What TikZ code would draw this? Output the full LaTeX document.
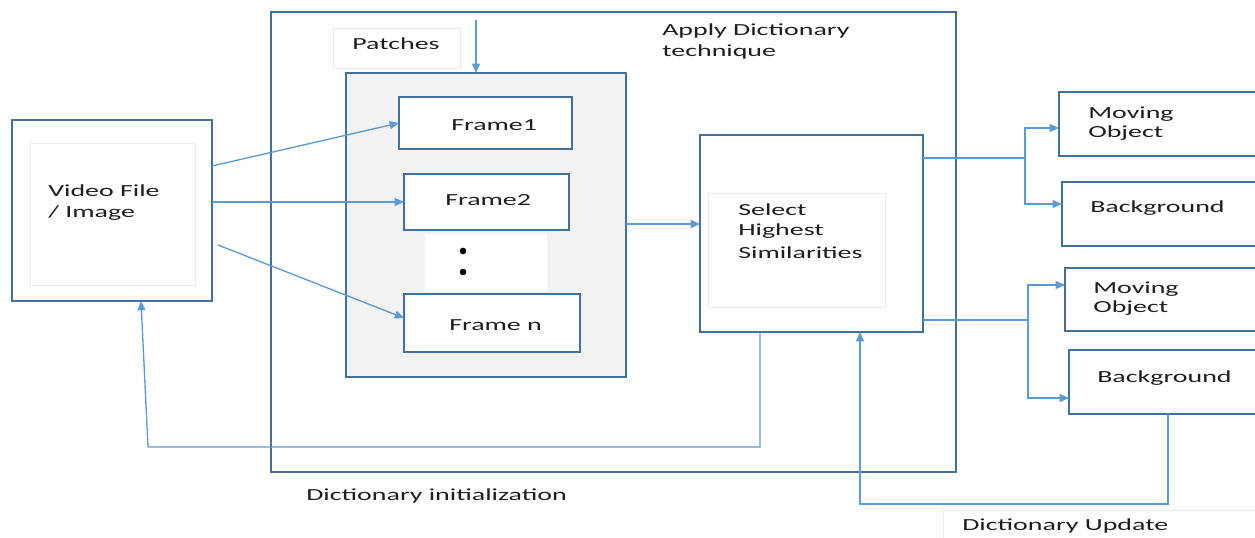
\documentclass[tikz,border=0pt]{standalone}
\usepackage{fontspec}
\setmainfont{Carlito}[FakeStretch=1.65]
\usetikzlibrary{arrows.meta,calc}
\definecolor{boxblue}{HTML}{41719C}
\definecolor{linkblue}{HTML}{5B9BD5}
\definecolor{faint}{HTML}{EBEBEB}
\definecolor{panel}{HTML}{F2F2F2}
\definecolor{ink}{HTML}{1E1E1E}

% \rectnode[style]{x1}{y1}{x2}{y2}{name}: a rectangle node spanning two corners
\newcommand\rectnode[6][]{%
  \node[#1, minimum width={(#4-#2)*0.75pt}, minimum height={(#5-#3)*0.75pt}]
    (#6) at ({(#2+#4)/2},{(#3+#5)/2}) {};}

\tikzset{
  box/.style={draw=boxblue, line width=1.1pt, inner sep=0pt, outer sep=0pt, fill=white},
  panelbox/.style={box, fill=panel},
  ghost/.style={draw=faint, line width=0.7pt, inner sep=0pt, outer sep=0pt},
  blank/.style={fill=white, inner sep=0pt, outer sep=0pt},
  link/.style={draw=linkblue, line width=1pt},
  arr/.style={link, -{Triangle[length=7pt,width=6pt]}},
  label/.style={anchor=base west, inner sep=0pt, text=ink},
  dot/.style={circle, fill=black, inner sep=0pt, minimum size=5pt},
}

\begin{document}
\begin{tikzpicture}[x=0.75pt, y=-0.75pt, font=\fontsize{12.7}{16}\selectfont]
\useasboundingbox (0,0) rectangle (1255,538);

% dictionary initialisation stage
\rectnode[box, fill=none]{271}{12}{956}{472}{init}
\rectnode[ghost]{333}{28}{460}{68}{patchbox}
\rectnode[panelbox]{346}{73}{626}{377}{panel}
\rectnode[box]{399}{97}{572}{149}{f1}
\rectnode[box]{404}{174}{569}{230}{f2}
\rectnode[blank]{425}{234}{547}{292}{gap}
\rectnode[box]{404}{294}{580}{352}{fn}
\rectnode[blank]{428}{308}{574}{341}{fnin}
\node[dot] (d1) at (463,251) {};
\node[dot] (d2) at (463,272) {};

% input
\rectnode[box]{12}{120}{212}{301}{video}
\rectnode[ghost]{30}{143}{195}{285}{videoin}

% selection
\rectnode[box]{700}{135}{923}{332}{select}
\rectnode[ghost]{708}{193}{885}{307}{selectin}

% outputs
\rectnode[box]{1059}{92}{1262}{156}{mo1}
\rectnode[box]{1062}{182}{1262}{246}{bg1}
\rectnode[box]{1065}{268}{1262}{331}{mo2}
\rectnode[box]{1069}{350}{1262}{414}{bg2}
\rectnode[ghost]{943}{510}{1262}{545}{updbox}

% labels
\node[label] (tpatch) at (352,50) {Patches};
\node[label] (tapply1) at (662,36) {Apply Dictionary};
\node[label] (tapply2) at (662,57) {technique};
\node[label] (tf1) at (451,131) {Frame1};
\node[label] (tf2) at (445,206) {Frame2};
\node[label] (tfn) at (449,330) {Frame n};
\node[label] (tv1) at (48,197) {Video File};
\node[label] (tv2) at (48,218) {/ Image};
\node[label] (ts1) at (738,215) {Select};
\node[label] (ts2) at (738,236) {Highest};
\node[label] (ts3) at (738,258) {Similarities};
\node[label] (tm1a) at (1088,119) {Moving};
\node[label] (tm1b) at (1088,138) {Object};
\node[label] (tb1) at (1090,213) {Background};
\node[label] (tm2a) at (1093,293) {Moving};
\node[label] (tm2b) at (1093,312) {Object};
\node[label] (tb2) at (1097,382) {Background};
\node[label] (tinit) at (306,500) {Dictionary initialization};
\node[label] (tupd) at (962,530) {Dictionary Update};

% connector end points
\coordinate (pin) at (476,20);
\coordinate (v1) at (212,166);
\coordinate (v2) at (212,202);
\coordinate (v3) at (218,245);
\coordinate (fnt) at (404,318);
\coordinate (po) at (626,224);
\coordinate (fbx) at (760,0);
\coordinate (fbA) at (760,447);
\coordinate (fbB) at (148,447);
\coordinate (fbC) at (141,301);
\coordinate (sr1) at (923,158);
\coordinate (j1) at (1025,158);
\coordinate (m1t) at (1059,128);
\coordinate (b1t) at (1062,204);
\coordinate (sr2) at (923,320);
\coordinate (j2) at (1028,320);
\coordinate (m2t) at (1065,285);
\coordinate (b2t) at (1069,398);
\coordinate (u0) at (1168,414);
\coordinate (uc) at (860,504);

% connectors
\draw[arr] (pin) -- (pin |- panel.north);
\draw[arr] (v1) -- (f1.west);
\draw[arr] (v2) -- (f2.west);
\draw[arr] (v3) -- (fnt);
\draw[arr] (po) -- (po -| select.west);
\draw[arr] (select.south -| fbx) -- (fbA) -- (fbB) -- (fbC);
\draw[link] (sr1) -- (j1);
\draw[arr] (j1) |- (m1t);
\draw[arr] (j1) |- (b1t);
\draw[link] (sr2) -- (j2);
\draw[arr] (j2) |- (m2t);
\draw[arr] (j2) |- (b2t);
\draw[arr] (u0) |- (uc) -- (uc |- select.south);
\end{tikzpicture}
\end{document}
